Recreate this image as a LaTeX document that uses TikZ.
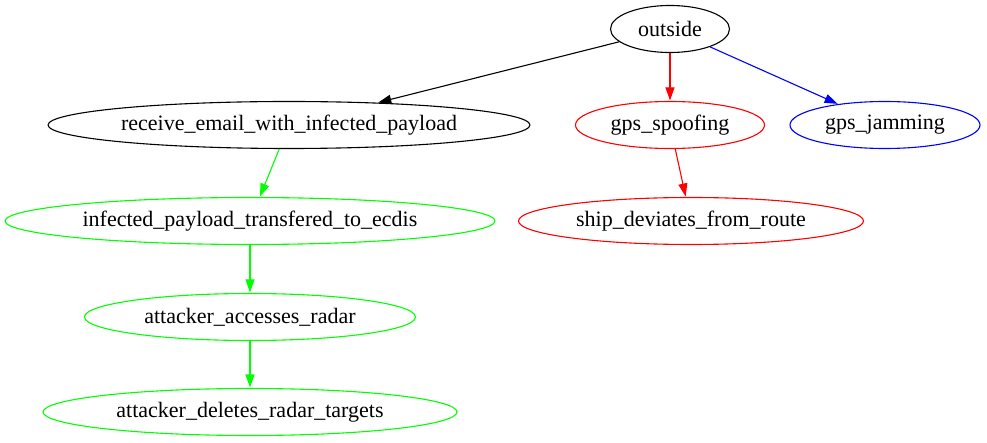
\documentclass[tikz,border=0pt]{standalone}
\usepackage{fontspec}
\setmainfont{Liberation Serif}
\usetikzlibrary{shapes.geometric,arrows.meta}
\definecolor{gvgreen}{RGB}{0,255,0}
\definecolor{gvred}{RGB}{255,0,0}
\definecolor{gvblue}{RGB}{0,0,255}
\begin{document}
\begin{tikzpicture}[x=1pt,y=-1pt,
  gv/.style={ellipse,draw,line width=1.1pt,inner sep=0pt,minimum height=47pt,font=\fontsize{22}{24}\selectfont},
  edge/.style={line width=1.1pt,-{Triangle[length=13pt,width=9pt]},shorten >=0.5pt}]
\useasboundingbox (0,0) rectangle (987,443);
\node[gv,minimum width=119pt] (outside) at (670,29) {outside};
\node[gv,minimum width=482pt] (receive) at (289,125) {receive\_email\_with\_infected\_payload};
\node[gv,draw=gvred,minimum width=189pt] (spoof) at (670,125) {gps\_spoofing};
\node[gv,draw=gvblue,minimum width=190pt] (jam) at (885,125) {gps\_jamming};
\node[gv,draw=gvgreen,minimum width=490pt] (infected) at (250,221) {infected\_payload\_transfered\_to\_ecdis};
\node[gv,draw=gvred,minimum width=345pt] (ship) at (691,221) {ship\_deviates\_from\_route};
\node[gv,draw=gvgreen,minimum width=331pt] (access) at (250,317) {attacker\_accesses\_radar};
\node[gv,draw=gvgreen,minimum width=414pt] (delete) at (250,412) {attacker\_deletes\_radar\_targets};
\draw[edge] (outside) -- (receive);
\draw[edge,gvred] (outside) -- (spoof);
\draw[edge,gvblue] (outside) -- (jam);
\draw[edge,gvgreen] (receive) -- (infected);
\draw[edge,gvred] (spoof) -- (ship);
\draw[edge,gvgreen] (infected) -- (access);
\draw[edge,gvgreen] (access) -- (delete);
\end{tikzpicture}
\end{document}
